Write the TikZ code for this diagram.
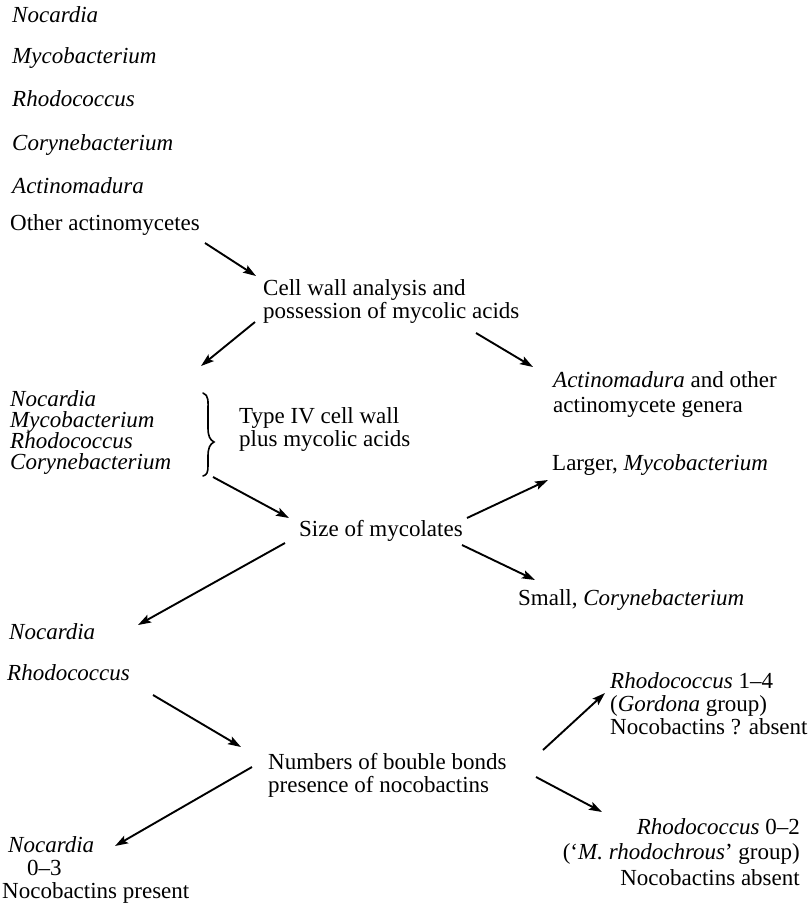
\documentclass[tikz,border=0pt]{standalone}
\usepackage{fontspec}
\setmainfont{Liberation Serif}
\usetikzlibrary{arrows.meta}
\begin{document}
\begin{tikzpicture}[x=1pt,y=-1pt,
  lbl/.style={anchor=base west, inner sep=0pt, font=\fontsize{23}{23}\selectfont, align=left},
  tight/.style={lbl, font=\fontsize{23}{21}\selectfont},
  loose/.style={lbl, font=\fontsize{23}{25}\selectfont},
  arr/.style={-{Stealth[length=13pt,width=8.5pt,inset=2.5pt]}, line width=1.9pt},
]
\useasboundingbox (0,0) rectangle (810,906);

\node[lbl] (n1) at (12,22) {\textit{Nocardia}};
\node[lbl] (n2) at (12,63) {\textit{Mycobacterium}};
\node[lbl] (n3) at (12,106) {\textit{Rhodococcus}};
\node[lbl] (n4) at (12,150) {\textit{Corynebacterium}};
\node[lbl] (n5) at (12,193) {\textit{Actinomadura}};
\node[lbl] (n6) at (10,230) {Other actinomycetes};

\node[lbl] (cell) at (263,318) {Cell wall analysis and\\possession of mycolic acids};
\node[loose] (act) at (553,412) {\textit{Actinomadura} and other\\actinomycete genera};

\node[tight] (grp) at (10,469) {\textit{Nocardia}\\\textit{Mycobacterium}\\\textit{Rhodococcus}\\\textit{Corynebacterium}};
\node[lbl] (type) at (239,446) {Type IV cell wall\\plus mycolic acids};

\node[lbl] (size) at (299,536) {Size of mycolates};
\node[lbl] (larger) at (552,470) {Larger, \textit{Mycobacterium}};
\node[lbl] (small) at (518,605) {Small, \textit{Corynebacterium}};

\node[lbl] (noc2) at (9,639) {\textit{Nocardia}};
\node[lbl] (rho2) at (7,680) {\textit{Rhodococcus}};

\node[lbl] (num) at (268,792) {Numbers of bouble bonds\\presence of nocobactins};

\node[lbl] (noc3) at (2,898) {\hspace*{6pt}\textit{Nocardia}\\\hspace*{25pt}0–3\\Nocobactins present};

\node[lbl] (r14) at (610,734) {\textit{Rhodococcus} 1–4\\(\textit{Gordona} group)\\Nocobactins ? absent};
\node[lbl, font=\fontsize{23}{25.5}\selectfont, anchor=base east, align=right] (r02) at (800,885) {\textit{Rhodococcus} 0–2\\(‘\textit{M. rhodochrous}’ group)\\Nocobactins absent};

% brace
\draw[line width=1.6pt, line cap=round]
  (203,393) .. controls (209,395) and (208,402) .. (208,410)
  -- (208,428) .. controls (208,436) and (210,440) .. (214,442)
  .. controls (210,444) and (208,448) .. (208,456)
  -- (208,466) .. controls (208,472) and (207,475) .. (203,476);

% connectors
\draw[arr] ([shift={(195,13)}]n6.base west) -- ([shift={(-7,-42)}]cell.base west);
\draw[arr] ([shift={(-8,4)}]cell.base west) -- ([shift={(191,-103)}]grp.base west);
\draw[arr] ([shift={(213,15)}]cell.base west) -- ([shift={(-20,-45)}]act.base west);
\draw[arr] ([shift={(203,8)}]grp.base west) -- ([shift={(-10,-18)}]size.base west);
\draw[arr] ([shift={(168,-18)}]size.base west) -- ([shift={(-4,10)}]larger.base west);
\draw[arr] ([shift={(163,9)}]size.base west) -- ([shift={(17,-25)}]small.base west);
\draw[arr] ([shift={(-14,7)}]size.base west) -- ([shift={(129,-14)}]noc2.base west);
\draw[arr] ([shift={(146,15)}]rho2.base west) -- ([shift={(-27,-45)}]num.base west);
\draw[arr] ([shift={(-16,-25)}]num.base west) -- ([shift={(113,-52)}]noc3.base west);
\draw[arr] ([shift={(275,-42)}]num.base west) -- ([shift={(-5,-41)}]r14.base west);
\draw[arr] ([shift={(268,-15)}]num.base west) -- ([shift={(-198,-73)}]r02.base east);
\end{tikzpicture}
\end{document}
